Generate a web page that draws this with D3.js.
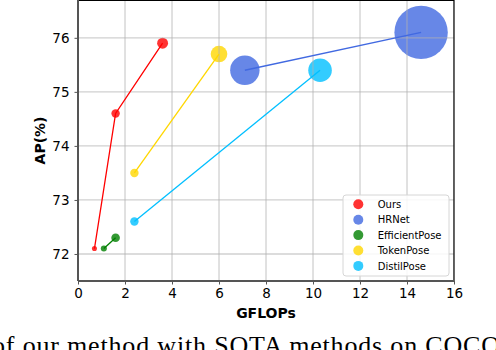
<!DOCTYPE html>
<html>
<head>
<meta charset="utf-8">
<script src="https://cdn.jsdelivr.net/npm/d3@7"></script>
<style>
  html, body { margin: 0; padding: 0; background: #fff; }
  svg { display: block; }
</style>
</head>
<body>
<script>
// ---- data ----
const seriesNames = ["Ours", "HRNet", "EfficientPose", "TokenPose", "DistilPose"];
const oursGFLOPs = [0.7, 1.6, 3.6];
const oursAP = [72.1, 74.6, 75.9];
const oursSize = [0.9, 2.5, 4.2];
const hrnetGFLOPs = [7.1, 14.6];
const hrnetAP = [75.4, 76.1];
const hrnetSize = [30.3, 100];
const effGFLOPs = [1.1, 1.6];
const effAP = [72.1, 72.3];
const effSize = [1.3, 2.6];
const tokenGFLOPs = [2.4, 6.0];
const tokenAP = [73.5, 75.7];
const tokenSize = [2.5, 9.7];
const distilGFLOPs = [2.4, 10.3];
const distilAP = [72.6, 75.4];
const distilSize = [2.5, 19.5];
const xTicks = [0, 2, 4, 6, 8, 10, 12, 14, 16];
const yTicks = [72, 73, 74, 75, 76];
const xLabel = "GFLOPs";
const yLabel = "AP(%)";
const caption = "of our method with SOTA methods on COCO";

const colors = ["#ff0000", "#4169e1", "#008000", "#ffd700", "#00bfff"];

const series = [
  {name: seriesNames[0], x: oursGFLOPs, y: oursAP, s: oursSize},
  {name: seriesNames[1], x: hrnetGFLOPs, y: hrnetAP, s: hrnetSize},
  {name: seriesNames[2], x: effGFLOPs, y: effAP, s: effSize},
  {name: seriesNames[3], x: tokenGFLOPs, y: tokenAP, s: tokenSize},
  {name: seriesNames[4], x: distilGFLOPs, y: distilAP, s: distilSize}
].map((d, i) => ({...d, color: colors[i],
  pts: d.x.map((v, j) => ({x: v, y: d.y[j], s: d.s[j]}))}));

// ---- layout ----
const W = 496, H = 350;
const L = 78, R = 454, T = 0, B = 281;

const svg = d3.select("body").append("svg").attr("width", W).attr("height", H)
  .style("font-family", "'DejaVu Sans', sans-serif");

const x = d3.scaleLinear().domain([0, 16]).range([L, R]);
const y = d3.scaleLinear().domain([71.5, 76.7]).range([B, T]);
const r = d3.scaleSqrt().domain([0, 100]).range([0, 26.7]);

const clipId = "plotclip";
svg.append("clipPath").attr("id", clipId).append("rect")
  .attr("x", L).attr("y", T).attr("width", R - L).attr("height", B - T);

const plot = svg.append("g").attr("clip-path", `url(#${clipId})`);

// markers (below grid)
series.forEach(s => {
  plot.append("g").selectAll("circle").data(s.pts).join("circle")
    .attr("cx", d => x(d.x)).attr("cy", d => y(d.y)).attr("r", d => r(d.s))
    .attr("fill", s.color).attr("fill-opacity", 0.8);
});

// grid
const grid = plot.append("g").attr("stroke", "#b0b0b0").attr("stroke-opacity", 0.6).attr("stroke-width", 1.3);
grid.selectAll("line.gx").data(xTicks).join("line")
  .attr("x1", d => x(d)).attr("x2", d => x(d)).attr("y1", T).attr("y2", B);
grid.selectAll("line.gy").data(yTicks).join("line")
  .attr("y1", d => y(d)).attr("y2", d => y(d)).attr("x1", L).attr("x2", R);

// lines (on top)
const line = d3.line().x(d => x(d.x)).y(d => y(d.y));
series.forEach(s => {
  plot.append("path").datum(s.pts).attr("d", line)
    .attr("fill", "none").attr("stroke", s.color).attr("stroke-width", 1.3);
});

// spines
svg.append("line").attr("x1", L).attr("x2", R).attr("y1", T + 0.5).attr("y2", T + 0.5).attr("stroke", "#000").attr("stroke-width", 1.2);
svg.append("line").attr("x1", R).attr("x2", R).attr("y1", T).attr("y2", B).attr("stroke", "#000").attr("stroke-width", 1.2);

// axes
const xAxis = d3.axisBottom(x).tickValues(xTicks).tickFormat(d3.format("d")).tickSize(3.5).tickPadding(4);
const yAxis = d3.axisLeft(y).tickValues(yTicks).tickFormat(d3.format("d")).tickSize(3.5).tickPadding(5);

const gx = svg.append("g").attr("transform", `translate(0,${B})`).call(xAxis);
const gy = svg.append("g").attr("transform", `translate(${L},0)`).call(yAxis);
[gx, gy].forEach(g => {
  g.select(".domain").attr("stroke", "#555").attr("stroke-width", 2);
  g.selectAll(".tick line").attr("stroke", "#555").attr("stroke-width", 1);
  g.selectAll(".tick text").attr("fill", "#000").style("font-size", "13.5px")
    .style("font-family", "'DejaVu Sans', sans-serif");
});
gy.select(".domain").attr("d", `M0,${T}V${B}`);
gx.select(".domain").attr("d", `M${L},0H${R}`);

// axis labels
svg.append("text").attr("x", (L + R) / 2).attr("y", 318).attr("text-anchor", "middle")
  .style("font-size", "14px").style("font-weight", "bold").text(xLabel);
svg.append("text").attr("transform", `translate(45,${(T + B) / 2}) rotate(-90)`)
  .attr("text-anchor", "middle").style("font-size", "14px").style("font-weight", "bold").text(yLabel);

// legend
const lg = svg.append("g");
lg.append("rect").attr("x", 343).attr("y", 195).attr("width", 106).attr("height", 81)
  .attr("rx", 3).attr("fill", "#fff").attr("fill-opacity", 0.85)
  .attr("stroke", "#d6d6d6").attr("stroke-width", 1);
const items = lg.selectAll("g.item").data(series).join("g")
  .attr("transform", (d, i) => `translate(0,${204.3 + i * 15.4})`);
items.append("circle").attr("cx", 358.3).attr("cy", 0).attr("r", 5)
  .attr("fill", d => d.color).attr("fill-opacity", 0.8);
items.append("text").attr("x", 377.7).attr("y", 0).attr("dy", "0.36em")
  .style("font-size", "10px").attr("fill", "#000").text(d => d.name);

// caption (cropped at the bottom)
svg.append("text").attr("x", -8).attr("y", 354)
  .attr("textLength", 508).attr("lengthAdjust", "spacing")
  .style("font-family", "'Liberation Serif', serif").style("font-size", "26px")
  .attr("fill", "#000").text(caption);
</script>
</body>
</html>
